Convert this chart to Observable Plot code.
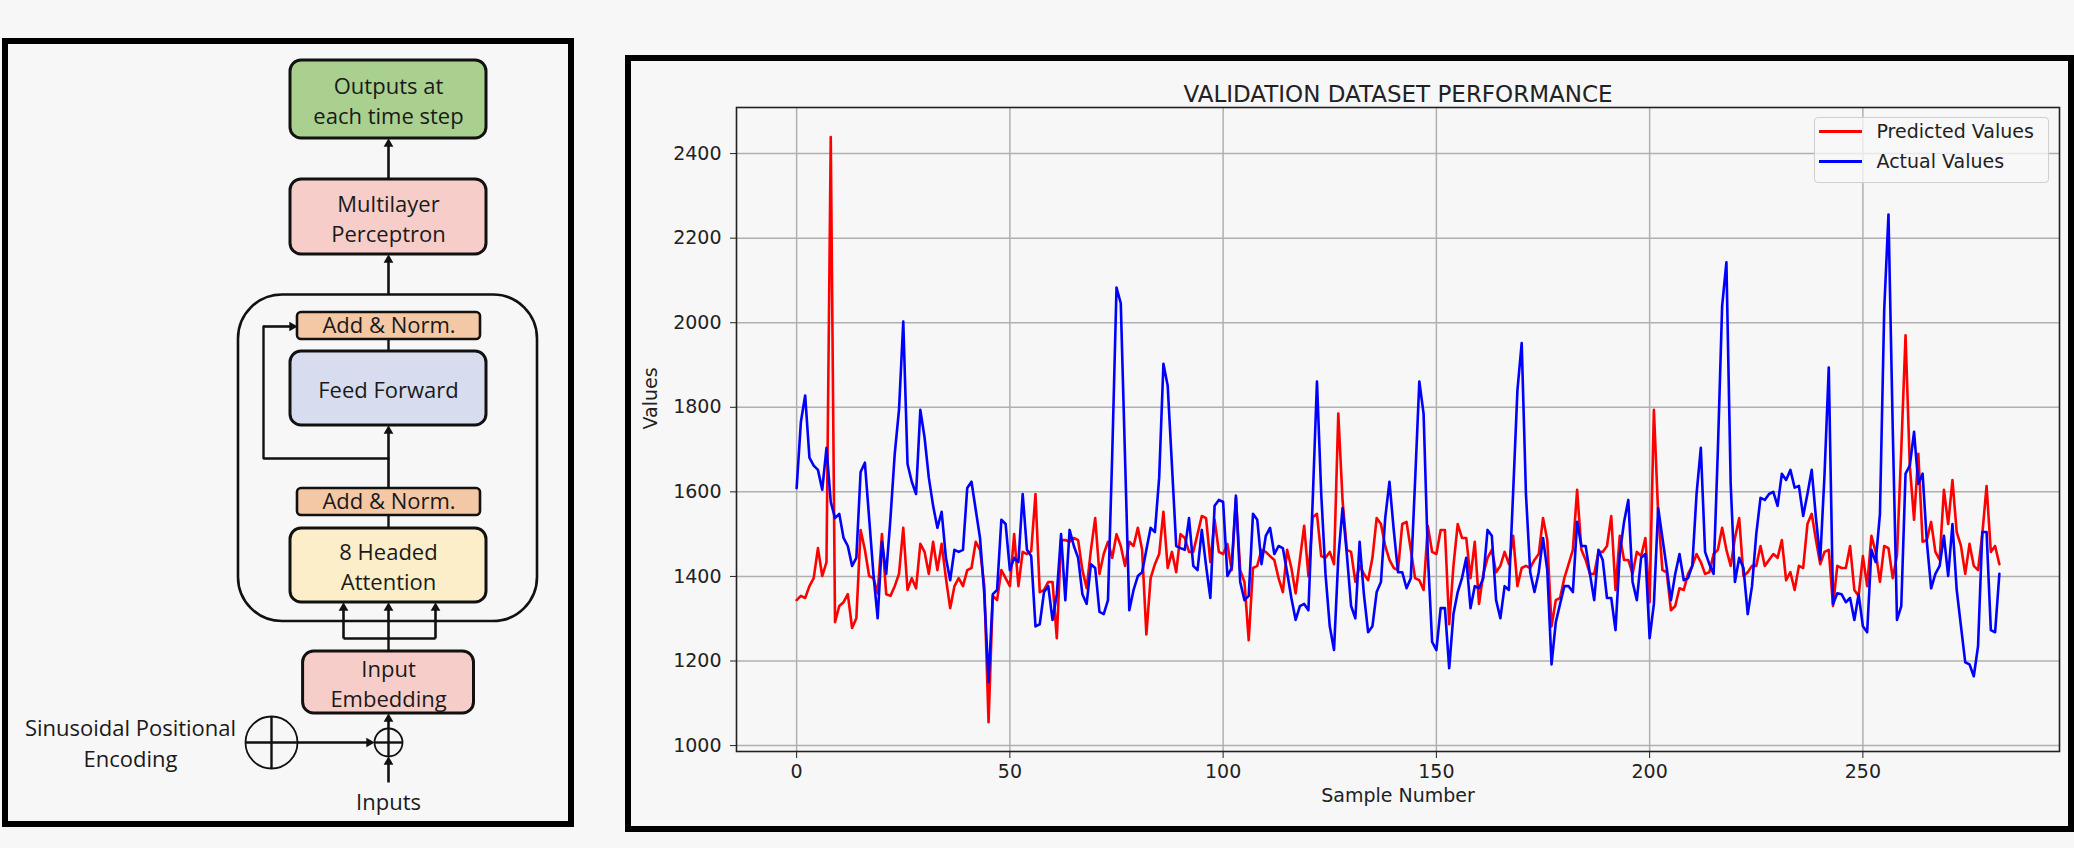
<!DOCTYPE html>
<html>
<head>
<meta charset="utf-8">
<script src="https://cdn.jsdelivr.net/npm/d3@7"></script>
<script src="https://cdn.jsdelivr.net/npm/@observablehq/plot@0.6"></script>
<style>
html, body { margin: 0; padding: 0; background: #f7f7f7; overflow: hidden; }
#page { position: relative; width: 2074px; height: 848px; background: #f7f7f7; overflow: hidden; }
.panel { position: absolute; box-sizing: border-box; border: 6px solid #000; }
#left { left: 2px; top: 38px; width: 572px; height: 789px; }
#right { left: 625px; top: 55px; width: 1449px; height: 777px; }
#diagram { position: absolute; left: 0; top: 0; }
#chart { position: absolute; left: 631px; top: 61px; }
#legend { position: absolute; left: 1814px; top: 117px; width: 235px; height: 66px; box-sizing: border-box;
  border: 1.5px solid #cfcfcf; border-radius: 4px; background: rgba(247,247,247,0.8);
  font-family: 'DejaVu Sans', sans-serif; font-size: 19px; color: #222; }
#legend .sw { position: absolute; left: 3.5px; width: 43px; height: 3px; }
#legend .lb { position: absolute; left: 61.5px; line-height: 22px; white-space: nowrap; }
</style>
</head>
<body>
<div id="page">
  <div class="panel" id="left"></div>
  <div class="panel" id="right"></div>
  <div id="diagram"></div>
  <div id="chart"></div>
  <div id="legend">
    <div class="sw" style="top:11.7px;background:#ff0000"></div>
    <div class="lb" style="top:2.2px">Predicted Values</div>
    <div class="sw" style="top:41.7px;background:#0000ff"></div>
    <div class="lb" style="top:32.2px">Actual Values</div>
  </div>
</div>
<script>
// ---------------- chart data ----------------
const chartTitle = "VALIDATION DATASET PERFORMANCE";
const xLabel = "Sample Number";
const yLabel = "Values";
const seriesNames = ["Predicted Values", "Actual Values"];
const xTicks = [0, 50, 100, 150, 200, 250];
const yTicks = [1000, 1200, 1400, 1600, 1800, 2000, 2200, 2400];

const predicted = [
 1344,1354,1349,1377,1396,1467,1401,1434,2439,1292,
 1330,1339,1358,1278,1301,1510,1463,1401,1396,1360,
 1500,1358,1354,1377,1406,1515,1368,1396,1372,1477,
 1458,1406,1482,1415,1477,1396,1325,1377,1396,1377,
 1415,1420,1482,1463,1377,1055,1354,1344,1415,1396,
 1377,1500,1377,1458,1453,1460,1595,1363,1368,1387,
 1387,1254,1486,1486,1482,1491,1486,1415,1372,1463,
 1538,1406,1453,1482,1444,1500,1472,1425,1482,1472,
 1515,1463,1263,1396,1429,1453,1553,1420,1458,1410,
 1500,1491,1458,1458,1500,1543,1538,1434,1534,1458,
 1453,1477,1415,1586,1415,1387,1249,1420,1425,1463,
 1458,1448,1439,1396,1363,1463,1420,1360,1440,1520,
 1400,1540,1548,1448,1444,1458,1429,1785,1580,1463,
 1458,1387,1425,1406,1391,1444,1538,1524,1472,1439,
 1420,1415,1524,1529,1463,1396,1391,1368,1519,1458,
 1453,1510,1510,1287,1425,1524,1491,1491,1396,1482,
 1335,1406,1444,1463,1410,1425,1458,1429,1496,1377,
 1420,1425,1420,1439,1453,1538,1486,1282,1344,1349,
 1396,1429,1463,1605,1463,1439,1406,1406,1458,1458,
 1472,1543,1368,1496,1439,1439,1406,1458,1448,1491,
 1339,1794,1548,1415,1410,1320,1330,1372,1368,1406,
 1425,1453,1434,1406,1410,1453,1463,1515,1463,1425,
 1491,1538,1401,1410,1425,1425,1472,1425,1439,1453,
 1444,1486,1391,1410,1368,1425,1420,1524,1548,1486,
 1429,1458,1463,1330,1425,1420,1420,1472,1368,1354,
 1448,1377,1496,1458,1387,1472,1467,1396,1450,1700,
 1970,1662,1534,1690,1482,1486,1529,1458,1439,1605,
 1524,1628,1505,1472,1406,1477,1425,1415,1500,1614,
 1458,1472,1429
];

const actual = [
 1609,1766,1828,1681,1662,1652,1605,1704,1576,1538,
 1548,1491,1472,1425,1444,1647,1669,1538,1406,1301,
 1482,1406,1538,1690,1794,2003,1666,1624,1595,1794,
 1728,1633,1567,1515,1553,1444,1391,1463,1458,1463,
 1609,1624,1557,1491,1358,1150,1358,1368,1534,1524,
 1415,1444,1434,1595,1463,1448,1282,1287,1363,1377,
 1297,1358,1500,1344,1510,1472,1444,1358,1335,1429,
 1420,1316,1311,1344,1690,2083,2046,1680,1320,1368,
 1401,1410,1463,1515,1505,1633,1903,1851,1662,1472,
 1467,1463,1538,1425,1415,1510,1425,1349,1567,1581,
 1576,1401,1420,1591,1387,1344,1354,1548,1534,1429,
 1496,1515,1453,1472,1467,1410,1349,1297,1330,1335,
 1320,1580,1861,1595,1406,1282,1226,1444,1562,1453,
 1330,1301,1482,1358,1268,1282,1363,1387,1538,1624,
 1510,1410,1410,1372,1396,1624,1861,1785,1450,1245,
 1226,1325,1325,1183,1311,1363,1396,1444,1325,1377,
 1372,1396,1510,1496,1344,1301,1377,1368,1600,1840,
 1952,1595,1410,1363,1410,1491,1415,1192,1292,1335,
 1377,1377,1363,1529,1472,1472,1406,1344,1463,1439,
 1349,1349,1273,1453,1529,1581,1387,1344,1444,1453,
 1254,1335,1562,1491,1420,1344,1406,1453,1391,1396,
 1425,1595,1704,1458,1429,1406,1700,2040,2143,1620,
 1387,1444,1420,1311,1377,1500,1586,1581,1595,1600,
 1567,1643,1628,1652,1610,1614,1543,1595,1652,1538,
 1440,1640,1894,1335,1360,1358,1339,1349,1297,1358,
 1282,1268,1463,1434,1548,2030,2256,1750,1297,1330,
 1643,1662,1742,1619,1643,1482,1372,1406,1425,1496,
 1401,1524,1368,1282,1197,1192,1164,1235,1505,1505,
 1273,1268,1406
];

// ---------------- diagram content ----------------
const boxLabels = ["Outputs at\neach time step", "Multilayer\nPerceptron", "Feed Forward", "8 Headed\nAttention", "Input\nEmbedding"];
const normLabel = "Add & Norm.";
const inputsLabel = "Inputs";
const posEncLabel = "Sinusoidal Positional\nEncoding";

// ---------------- diagram layout (pixels) ----------------
const bigBoxes = [
  {label: boxLabels[0], x1: 290, x2: 486, y1: 60,  y2: 138, fill: "#a9d08e"},
  {label: boxLabels[1], x1: 290, x2: 486, y1: 179, y2: 254, fill: "#f7cdc9"},
  {label: boxLabels[2], x1: 290, x2: 486, y1: 351, y2: 425, fill: "#d7ddee"},
  {label: boxLabels[3], x1: 290, x2: 486, y1: 528, y2: 602, fill: "#fbeec8"},
  {label: boxLabels[4], x1: 302.6, x2: 473.5, y1: 651, y2: 713, fill: "#f7cdc9"}
];
const normBoxes = [
  {label: normLabel, x1: 297, x2: 480, y1: 312, y2: 339, fill: "#f5c8a5"},
  {label: normLabel, x1: 297, x2: 480, y1: 488, y2: 515, fill: "#f5c8a5"}
];
const arrows = [
  {x1: 388, y1: 179, x2: 388, y2: 138},
  {x1: 388, y1: 294, x2: 388, y2: 254},
  {x1: 388, y1: 488, x2: 388, y2: 425},
  {x1: 263, y1: 326, x2: 297, y2: 326},
  {x1: 343, y1: 638, x2: 343, y2: 602},
  {x1: 388, y1: 638, x2: 388, y2: 602},
  {x1: 435, y1: 638, x2: 435, y2: 602},
  {x1: 388, y1: 728, x2: 388, y2: 713},
  {x1: 297, y1: 742, x2: 374, y2: 742},
  {x1: 388, y1: 782, x2: 388, y2: 756}
];
const segments = [
  {x1: 388, y1: 339, x2: 388, y2: 351},
  {x1: 388, y1: 515, x2: 388, y2: 528},
  {x1: 343, y1: 638, x2: 435, y2: 638},
  {x1: 388, y1: 651, x2: 388, y2: 638},
  {x1: 245, y1: 742, x2: 297, y2: 742},
  {x1: 271, y1: 716, x2: 271, y2: 768},
  {x1: 374, y1: 742, x2: 402, y2: 742},
  {x1: 388, y1: 728, x2: 388, y2: 756}
];
const skipPath = [{x: 388, y: 458}, {x: 263, y: 458}, {x: 263, y: 326}];
const HEAD = 5.4;
const heads = arrows.map(a => {
  const dx = a.x2 - a.x1, dy = a.y2 - a.y1, L = Math.hypot(dx, dy);
  const ux = dx / L, uy = dy / L;
  return {x: a.x2 - ux * HEAD, y: a.y2 - uy * HEAD, rotate: Math.atan2(ux, -uy) * 180 / Math.PI, x1: a.x1, y1: a.y1};
});

const ink = "#111";
const diagram = Plot.plot({
  width: 580, height: 848, margin: 0,
  x: {domain: [0, 580], range: [0, 580], axis: null},
  y: {domain: [0, 848], range: [0, 848], axis: null},
  style: {background: "transparent", fontFamily: "'Open Sans', sans-serif"},
  marks: [
    Plot.rect([{x1: 238, x2: 537, y1: 294.5, y2: 621}], {x1: "x1", x2: "x2", y1: "y1", y2: "y2", fill: "none", stroke: ink, strokeWidth: 2.6, rx: 44}),
    Plot.link(segments, {x1: "x1", y1: "y1", x2: "x2", y2: "y2", stroke: ink, strokeWidth: 2.4}),
    Plot.line(skipPath, {x: "x", y: "y", stroke: ink, strokeWidth: 2.4, strokeLinejoin: "miter"}),
    Plot.link(heads, {x1: "x1", y1: "y1", x2: "x", y2: "y", stroke: ink, strokeWidth: 2.6}),
    Plot.dot(heads, {x: "x", y: "y", rotate: "rotate", symbol: "triangle", r: 3.6, fill: ink, stroke: "none"}),
    Plot.dot([{x: 271, y: 742}], {x: "x", y: "y", r: 26, fill: "none", stroke: ink, strokeWidth: 1.8}),
    Plot.dot([{x: 388, y: 742}], {x: "x", y: "y", r: 14, fill: "none", stroke: ink, strokeWidth: 1.8}),
    Plot.rect(bigBoxes, {x1: "x1", x2: "x2", y1: "y1", y2: "y2", fill: d => d.fill, stroke: ink, strokeWidth: 3, rx: 11}),
    Plot.rect(normBoxes, {x1: "x1", x2: "x2", y1: "y1", y2: "y2", fill: d => d.fill, stroke: ink, strokeWidth: 2.6, rx: 4}),
    Plot.text(bigBoxes, {x: d => (d.x1 + d.x2) / 2, y: d => (d.y1 + d.y2) / 2, text: "label", fontSize: 22, lineHeight: 1.36, fill: "#1a1a1a"}),
    Plot.text(normBoxes, {x: d => (d.x1 + d.x2) / 2, y: d => (d.y1 + d.y2) / 2, text: "label", fontSize: 22, fill: "#1a1a1a"}),
    Plot.text([inputsLabel], {x: 388, y: 802, text: d => d, fontSize: 22, fill: "#1a1a1a"}),
    Plot.text([posEncLabel], {x: 130, y: 741, text: d => d, fontSize: 22, lineHeight: 1.41, fill: "#1a1a1a"})
  ]
});
document.getElementById("diagram").appendChild(diagram);

// ---------------- chart ----------------
const rowsPred = predicted.map((v, i) => ({sample: i, value: v, series: seriesNames[0]}));
const rowsAct = actual.map((v, i) => ({sample: i, value: v, series: seriesNames[1]}));

const chart = Plot.plot({
  width: 1437, height: 765,
  marginLeft: 105, marginRight: 9, marginTop: 46, marginBottom: 75,
  x: {domain: [-14.1, 296.1], label: null},
  y: {domain: [986, 2509], label: null},
  style: {background: "transparent", fontFamily: "'DejaVu Sans', sans-serif", color: "#222"},
  marks: [
    Plot.gridX(xTicks, {stroke: "#b0b0b0", strokeOpacity: 1, strokeWidth: 1.5}),
    Plot.gridY(yTicks, {stroke: "#b0b0b0", strokeOpacity: 1, strokeWidth: 1.5}),
    Plot.line(rowsPred, {x: "sample", y: "value", stroke: "#ff0000", strokeWidth: 2.6}),
    Plot.line(rowsAct, {x: "sample", y: "value", stroke: "#0000ff", strokeWidth: 2.6}),
    Plot.frame({stroke: "#222", strokeWidth: 1.6}),
    Plot.axisX(xTicks, {tickSize: 7, tickPadding: 6, fontSize: 19, label: null, stroke: "#222", tickFormat: d => String(d)}),
    Plot.axisY(yTicks, {tickSize: 6, tickPadding: 9, fontSize: 19, label: null, stroke: "#222", tickFormat: d => String(d)}),
    Plot.text([chartTitle], {frameAnchor: "top", dy: -21.4, text: d => d, fontSize: 23, fill: "#222"}),
    Plot.text([xLabel], {frameAnchor: "bottom", dy: 50.6, text: d => d, fontSize: 19, fill: "#222"}),
    Plot.text([yLabel], {frameAnchor: "left", dx: -85.4, rotate: -90, text: d => d, fontSize: 19, fill: "#222"})
  ]
});
document.getElementById("chart").appendChild(chart);
</script>
</body>
</html>
